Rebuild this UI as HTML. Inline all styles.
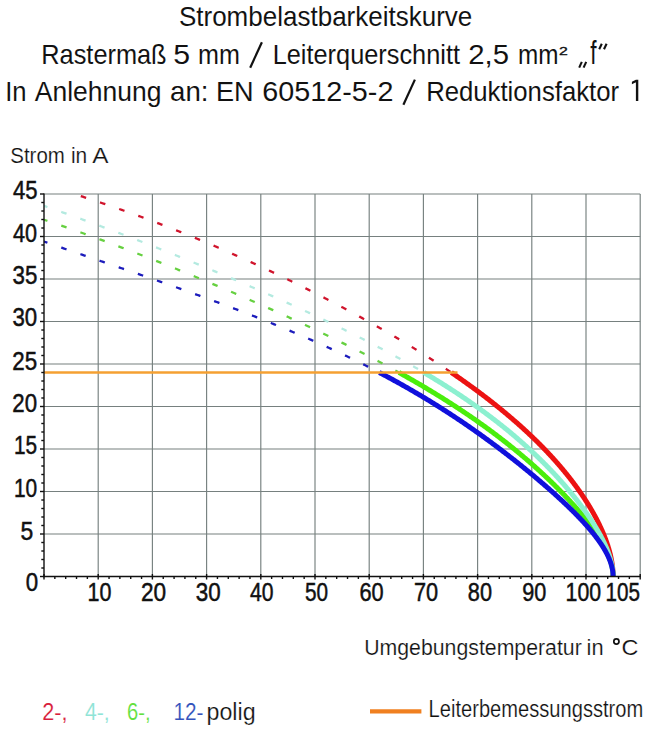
<!DOCTYPE html>
<html><head><meta charset="utf-8"><style>
html,body{margin:0;padding:0;background:#fff;width:664px;height:743px;overflow:hidden}
svg{display:block}
text{font-family:"Liberation Sans",sans-serif}
</style></head><body>
<svg width="664" height="743" viewBox="0 0 664 743">
<g stroke="#76807f" stroke-width="1.15"><line x1="98.20" y1="194" x2="98.20" y2="576.5" /><line x1="152.40" y1="194" x2="152.40" y2="576.5" /><line x1="206.60" y1="194" x2="206.60" y2="576.5" /><line x1="260.80" y1="194" x2="260.80" y2="576.5" /><line x1="315.00" y1="194" x2="315.00" y2="576.5" /><line x1="369.20" y1="194" x2="369.20" y2="576.5" /><line x1="423.40" y1="194" x2="423.40" y2="576.5" /><line x1="477.60" y1="194" x2="477.60" y2="576.5" /><line x1="531.80" y1="194" x2="531.80" y2="576.5" /><line x1="586.00" y1="194" x2="586.00" y2="576.5" /><line x1="640.20" y1="194" x2="640.20" y2="576.5" /><line x1="44.0" y1="534.00" x2="640.20" y2="534.00" /><line x1="44.0" y1="491.50" x2="640.20" y2="491.50" /><line x1="44.0" y1="449.00" x2="640.20" y2="449.00" /><line x1="44.0" y1="406.50" x2="640.20" y2="406.50" /><line x1="44.0" y1="364.00" x2="640.20" y2="364.00" /><line x1="44.0" y1="321.50" x2="640.20" y2="321.50" /><line x1="44.0" y1="279.00" x2="640.20" y2="279.00" /><line x1="44.0" y1="236.50" x2="640.20" y2="236.50" /><line x1="44.0" y1="194.00" x2="640.20" y2="194.00" /></g><clipPath id="cp"><rect x="44.0" y="193" width="596.2" height="383.5"/></clipPath><g clip-path="url(#cp)"><path d="M44.00,184.76 L46.12,185.38 L48.24,186.01 L50.34,186.64 L52.43,187.27 L54.52,187.90 L56.59,188.52 L58.65,189.15 L60.70,189.78 L62.75,190.41 L64.78,191.04 L66.80,191.66 L68.82,192.29 L70.82,192.92 L72.82,193.55 L74.80,194.17 L76.78,194.80 L78.75,195.43 L80.71,196.06 L82.66,196.69 L84.60,197.31 L86.53,197.94 L88.45,198.57 L90.37,199.20 L92.28,199.83 L94.18,200.45 L96.07,201.08 L97.95,201.71 L99.82,202.34 L101.69,202.97 L103.55,203.59 L105.40,204.22 L107.24,204.85 L109.08,205.48 L110.91,206.11 L112.73,206.73 L114.54,207.36 L116.34,207.99 L118.14,208.62 L119.93,209.24 L121.72,209.87 L123.50,210.50 L125.26,211.13 L127.03,211.76 L128.78,212.38 L130.53,213.01 L132.28,213.64 L134.01,214.27 L135.74,214.90 L137.46,215.52 L139.18,216.15 L140.89,216.78 L142.59,217.41 L144.29,218.04 L145.98,218.66 L147.67,219.29 L149.35,219.92 L151.02,220.55 L152.69,221.17 L154.35,221.80 L156.00,222.43 L157.65,223.06 L159.30,223.69 L160.94,224.31 L162.57,224.94 L164.20,225.57 L165.82,226.20 L167.43,226.83 L169.05,227.45 L170.65,228.08 L172.25,228.71 L173.85,229.34 L175.44,229.97 L177.02,230.59 L178.60,231.22 L180.17,231.85 L181.74,232.48 L183.31,233.10 L184.87,233.73 L186.42,234.36 L187.97,234.99 L189.52,235.62 L191.06,236.24 L192.59,236.87 L194.12,237.50 L195.65,238.13 L197.17,238.76 L198.69,239.38 L200.20,240.01 L201.71,240.64 L203.22,241.27 L204.72,241.90 L206.21,242.52 L207.70,243.15 L209.19,243.78 L210.67,244.41 L212.15,245.04 L213.63,245.66 L215.10,246.29 L216.56,246.92 L218.03,247.55 L219.48,248.17 L220.94,248.80 L222.39,249.43 L223.84,250.06 L225.28,250.69 L226.72,251.31 L228.15,251.94 L229.58,252.57 L231.01,253.20 L232.44,253.83 L233.86,254.45 L235.27,255.08 L236.69,255.71 L238.10,256.34 L239.50,256.97 L240.90,257.59 L242.30,258.22 L243.70,258.85 L245.09,259.48 L246.48,260.10 L247.86,260.73 L249.25,261.36 L250.62,261.99 L252.00,262.62 L253.37,263.24 L254.74,263.87 L256.10,264.50 L257.47,265.13 L258.83,265.76 L260.18,266.38 L261.53,267.01 L262.88,267.64 L264.23,268.27 L265.57,268.90 L266.91,269.52 L268.25,270.15 L269.58,270.78 L270.91,271.41 L272.24,272.04 L273.56,272.66 L274.89,273.29 L276.20,273.92 L277.52,274.55 L278.83,275.17 L280.14,275.80 L281.45,276.43 L282.75,277.06 L284.05,277.69 L285.35,278.31 L286.65,278.94 L287.94,279.57 L289.23,280.20 L290.52,280.83 L291.80,281.45 L293.08,282.08 L294.36,282.71 L295.64,283.34 L296.91,283.97 L298.18,284.59 L299.45,285.22 L300.71,285.85 L301.98,286.48 L303.24,287.10 L304.49,287.73 L305.75,288.36 L307.00,288.99 L308.25,289.62 L309.49,290.24 L310.74,290.87 L311.98,291.50 L313.22,292.13 L314.45,292.76 L315.68,293.38 L316.92,294.01 L318.14,294.64 L319.37,295.27 L320.59,295.90 L321.81,296.52 L323.03,297.15 L324.25,297.78 L325.46,298.41 L326.67,299.04 L327.88,299.66 L329.08,300.29 L330.28,300.92 L331.48,301.55 L332.68,302.17 L333.88,302.80 L335.07,303.43 L336.26,304.06 L337.45,304.69 L338.63,305.31 L339.81,305.94 L340.99,306.57 L342.17,307.20 L343.35,307.83 L344.52,308.45 L345.69,309.08 L346.86,309.71 L348.02,310.34 L349.19,310.97 L350.35,311.59 L351.50,312.22 L352.66,312.85 L353.81,313.48 L354.96,314.10 L356.11,314.73 L357.26,315.36 L358.40,315.99 L359.54,316.62 L360.68,317.24 L361.82,317.87 L362.95,318.50 L364.08,319.13 L365.21,319.76 L366.34,320.38 L367.46,321.01 L368.58,321.64 L369.70,322.27 L370.82,322.90 L371.93,323.52 L373.05,324.15 L374.16,324.78 L375.26,325.41 L376.37,326.03 L377.47,326.66 L378.57,327.29 L379.67,327.92 L380.76,328.55 L381.86,329.17 L382.95,329.80 L384.03,330.43 L385.12,331.06 L386.20,331.69 L387.28,332.31 L388.36,332.94 L389.44,333.57 L390.51,334.20 L391.58,334.83 L392.65,335.45 L393.72,336.08 L394.78,336.71 L395.84,337.34 L396.90,337.97 L397.96,338.59 L399.01,339.22 L400.06,339.85 L401.11,340.48 L402.16,341.10 L403.20,341.73 L404.24,342.36 L405.28,342.99 L406.32,343.62 L407.35,344.24 L408.39,344.87 L409.41,345.50 L410.44,346.13 L411.47,346.76 L412.49,347.38 L413.51,348.01 L414.53,348.64 L415.54,349.27 L416.55,349.90 L417.56,350.52 L418.57,351.15 L419.57,351.78 L420.58,352.41 L421.58,353.03 L422.57,353.66 L423.57,354.29 L424.56,354.92 L425.55,355.55 L426.54,356.17 L427.52,356.80 L428.51,357.43 L429.49,358.06 L430.46,358.69 L431.44,359.31 L432.41,359.94 L433.38,360.57 L434.35,361.20 L435.31,361.83 L436.28,362.45 L437.24,363.08 L438.19,363.71 L439.15,364.34 L440.10,364.97 L441.05,365.59 L442.00,366.22 L442.94,366.85 L443.89,367.48 L444.83,368.10 L445.76,368.73 L446.70,369.36 L447.63,369.99 L448.56,370.62 L449.49,371.24 L450.41,371.87 L451.33,372.50" stroke="#d0142c" stroke-width="2.3" fill="none" stroke-dasharray="5.6 14.65" stroke-dashoffset="2"/><path d="M44.00,205.87 L45.62,206.43 L47.23,206.98 L48.84,207.54 L50.45,208.10 L52.05,208.65 L53.65,209.21 L55.25,209.77 L56.84,210.33 L58.43,210.88 L60.01,211.44 L61.59,212.00 L63.17,212.56 L64.75,213.11 L66.32,213.67 L67.88,214.23 L69.45,214.79 L71.01,215.34 L72.56,215.90 L74.12,216.46 L75.67,217.01 L77.21,217.57 L78.76,218.13 L80.30,218.69 L81.83,219.24 L83.37,219.80 L84.90,220.36 L86.43,220.92 L87.95,221.47 L89.47,222.03 L90.99,222.59 L92.51,223.14 L94.02,223.70 L95.53,224.26 L97.04,224.82 L98.54,225.37 L100.05,225.93 L101.55,226.49 L103.04,227.05 L104.54,227.60 L106.03,228.16 L107.52,228.72 L109.00,229.27 L110.49,229.83 L111.97,230.39 L113.45,230.95 L114.92,231.50 L116.39,232.06 L117.87,232.62 L119.33,233.18 L120.80,233.73 L122.26,234.29 L123.72,234.85 L125.18,235.41 L126.64,235.96 L128.09,236.52 L129.55,237.08 L131.00,237.63 L132.44,238.19 L133.89,238.75 L135.33,239.31 L136.77,239.86 L138.21,240.42 L139.65,240.98 L141.08,241.54 L142.51,242.09 L143.94,242.65 L145.37,243.21 L146.79,243.76 L148.22,244.32 L149.64,244.88 L151.06,245.44 L152.48,245.99 L153.89,246.55 L155.30,247.11 L156.72,247.67 L158.13,248.22 L159.53,248.78 L160.94,249.34 L162.34,249.89 L163.74,250.45 L165.14,251.01 L166.54,251.57 L167.93,252.12 L169.33,252.68 L170.72,253.24 L172.11,253.80 L173.50,254.35 L174.88,254.91 L176.27,255.47 L177.65,256.03 L179.03,256.58 L180.41,257.14 L181.78,257.70 L183.16,258.25 L184.53,258.81 L185.90,259.37 L187.27,259.93 L188.64,260.48 L190.01,261.04 L191.37,261.60 L192.73,262.16 L194.09,262.71 L195.45,263.27 L196.81,263.83 L198.16,264.38 L199.52,264.94 L200.87,265.50 L202.22,266.06 L203.56,266.61 L204.91,267.17 L206.25,267.73 L207.60,268.29 L208.94,268.84 L210.28,269.40 L211.61,269.96 L212.95,270.51 L214.28,271.07 L215.62,271.63 L216.95,272.19 L218.27,272.74 L219.60,273.30 L220.93,273.86 L222.25,274.42 L223.57,274.97 L224.89,275.53 L226.21,276.09 L227.52,276.65 L228.84,277.20 L230.15,277.76 L231.46,278.32 L232.77,278.87 L234.08,279.43 L235.38,279.99 L236.69,280.55 L237.99,281.10 L239.29,281.66 L240.59,282.22 L241.88,282.78 L243.18,283.33 L244.47,283.89 L245.76,284.45 L247.05,285.00 L248.34,285.56 L249.63,286.12 L250.91,286.68 L252.19,287.23 L253.48,287.79 L254.75,288.35 L256.03,288.91 L257.31,289.46 L258.58,290.02 L259.85,290.58 L261.12,291.13 L262.39,291.69 L263.65,292.25 L264.92,292.81 L266.18,293.36 L267.44,293.92 L268.70,294.48 L269.96,295.04 L271.21,295.59 L272.47,296.15 L273.72,296.71 L274.97,297.26 L276.21,297.82 L277.46,298.38 L278.70,298.94 L279.95,299.49 L281.18,300.05 L282.42,300.61 L283.66,301.17 L284.89,301.72 L286.13,302.28 L287.36,302.84 L288.58,303.40 L289.81,303.95 L291.04,304.51 L292.26,305.07 L293.48,305.62 L294.70,306.18 L295.91,306.74 L297.13,307.30 L298.34,307.85 L299.55,308.41 L300.76,308.97 L301.97,309.53 L303.17,310.08 L304.37,310.64 L305.57,311.20 L306.77,311.75 L307.97,312.31 L309.16,312.87 L310.36,313.43 L311.55,313.98 L312.74,314.54 L313.92,315.10 L315.11,315.66 L316.29,316.21 L317.47,316.77 L318.65,317.33 L319.82,317.88 L320.99,318.44 L322.17,319.00 L323.34,319.56 L324.50,320.11 L325.67,320.67 L326.83,321.23 L327.99,321.79 L329.15,322.34 L330.31,322.90 L331.46,323.46 L332.61,324.02 L333.76,324.57 L334.91,325.13 L336.06,325.69 L337.20,326.24 L338.34,326.80 L339.48,327.36 L340.62,327.92 L341.75,328.47 L342.88,329.03 L344.01,329.59 L345.14,330.15 L346.27,330.70 L347.39,331.26 L348.51,331.82 L349.63,332.37 L350.75,332.93 L351.86,333.49 L352.97,334.05 L354.08,334.60 L355.19,335.16 L356.30,335.72 L357.40,336.28 L358.50,336.83 L359.60,337.39 L360.69,337.95 L361.79,338.50 L362.88,339.06 L363.96,339.62 L365.05,340.18 L366.13,340.73 L367.22,341.29 L368.30,341.85 L369.37,342.41 L370.45,342.96 L371.52,343.52 L372.59,344.08 L373.66,344.64 L374.72,345.19 L375.78,345.75 L376.84,346.31 L377.90,346.86 L378.95,347.42 L380.01,347.98 L381.06,348.54 L382.11,349.09 L383.15,349.65 L384.19,350.21 L385.23,350.77 L386.27,351.32 L387.31,351.88 L388.34,352.44 L389.37,352.99 L390.40,353.55 L391.42,354.11 L392.45,354.67 L393.47,355.22 L394.49,355.78 L395.50,356.34 L396.51,356.90 L397.52,357.45 L398.53,358.01 L399.54,358.57 L400.54,359.12 L401.54,359.68 L402.54,360.24 L403.53,360.80 L404.53,361.35 L405.52,361.91 L406.51,362.47 L407.49,363.03 L408.47,363.58 L409.45,364.14 L410.43,364.70 L411.41,365.26 L412.38,365.81 L413.35,366.37 L414.32,366.93 L415.28,367.48 L416.24,368.04 L417.20,368.60 L418.16,369.16 L419.11,369.71 L420.07,370.27 L421.01,370.83 L421.96,371.39 L422.91,371.94 L423.85,372.50" stroke="#b4eae0" stroke-width="2.3" fill="none" stroke-dasharray="5.6 14.65" stroke-dashoffset="2"/><path d="M44.00,219.75 L45.52,220.26 L47.04,220.77 L48.56,221.28 L50.07,221.79 L51.58,222.30 L53.08,222.82 L54.58,223.33 L56.08,223.84 L57.57,224.35 L59.05,224.86 L60.54,225.37 L62.02,225.88 L63.49,226.39 L64.96,226.90 L66.43,227.41 L67.90,227.92 L69.36,228.43 L70.81,228.95 L72.27,229.46 L73.72,229.97 L75.16,230.48 L76.61,230.99 L78.05,231.50 L79.48,232.01 L80.92,232.52 L82.35,233.03 L83.77,233.54 L85.20,234.05 L86.62,234.57 L88.03,235.08 L89.45,235.59 L90.86,236.10 L92.26,236.61 L93.67,237.12 L95.07,237.63 L96.47,238.14 L97.86,238.65 L99.26,239.16 L100.65,239.67 L102.03,240.18 L103.42,240.70 L104.80,241.21 L106.18,241.72 L107.55,242.23 L108.93,242.74 L110.30,243.25 L111.66,243.76 L113.03,244.27 L114.39,244.78 L115.75,245.29 L117.11,245.80 L118.47,246.32 L119.82,246.83 L121.17,247.34 L122.52,247.85 L123.86,248.36 L125.20,248.87 L126.54,249.38 L127.88,249.89 L129.22,250.40 L130.55,250.91 L131.88,251.42 L133.21,251.93 L134.54,252.45 L135.86,252.96 L137.19,253.47 L138.51,253.98 L139.82,254.49 L141.14,255.00 L142.45,255.51 L143.76,256.02 L145.07,256.53 L146.38,257.04 L147.69,257.55 L148.99,258.07 L150.29,258.58 L151.59,259.09 L152.89,259.60 L154.18,260.11 L155.48,260.62 L156.77,261.13 L158.06,261.64 L159.34,262.15 L160.63,262.66 L161.91,263.17 L163.20,263.68 L164.48,264.20 L165.75,264.71 L167.03,265.22 L168.30,265.73 L169.58,266.24 L170.85,266.75 L172.12,267.26 L173.38,267.77 L174.65,268.28 L175.91,268.79 L177.18,269.30 L178.44,269.82 L179.69,270.33 L180.95,270.84 L182.21,271.35 L183.46,271.86 L184.71,272.37 L185.96,272.88 L187.21,273.39 L188.46,273.90 L189.70,274.41 L190.94,274.92 L192.19,275.43 L193.43,275.95 L194.67,276.46 L195.90,276.97 L197.14,277.48 L198.37,277.99 L199.60,278.50 L200.83,279.01 L202.06,279.52 L203.29,280.03 L204.51,280.54 L205.74,281.05 L206.96,281.57 L208.18,282.08 L209.40,282.59 L210.62,283.10 L211.84,283.61 L213.05,284.12 L214.26,284.63 L215.48,285.14 L216.69,285.65 L217.89,286.16 L219.10,286.67 L220.31,287.18 L221.51,287.70 L222.71,288.21 L223.91,288.72 L225.11,289.23 L226.31,289.74 L227.51,290.25 L228.70,290.76 L229.90,291.27 L231.09,291.78 L232.28,292.29 L233.47,292.80 L234.65,293.32 L235.84,293.83 L237.02,294.34 L238.21,294.85 L239.39,295.36 L240.57,295.87 L241.75,296.38 L242.92,296.89 L244.10,297.40 L245.27,297.91 L246.44,298.42 L247.61,298.93 L248.78,299.45 L249.95,299.96 L251.12,300.47 L252.28,300.98 L253.45,301.49 L254.61,302.00 L255.77,302.51 L256.93,303.02 L258.08,303.53 L259.24,304.04 L260.39,304.55 L261.55,305.07 L262.70,305.58 L263.85,306.09 L264.99,306.60 L266.14,307.11 L267.29,307.62 L268.43,308.13 L269.57,308.64 L270.71,309.15 L271.85,309.66 L272.99,310.17 L274.12,310.68 L275.26,311.20 L276.39,311.71 L277.52,312.22 L278.65,312.73 L279.78,313.24 L280.90,313.75 L282.03,314.26 L283.15,314.77 L284.27,315.28 L285.39,315.79 L286.51,316.30 L287.63,316.82 L288.74,317.33 L289.86,317.84 L290.97,318.35 L292.08,318.86 L293.19,319.37 L294.30,319.88 L295.40,320.39 L296.51,320.90 L297.61,321.41 L298.71,321.92 L299.81,322.43 L300.91,322.95 L302.00,323.46 L303.10,323.97 L304.19,324.48 L305.28,324.99 L306.37,325.50 L307.46,326.01 L308.54,326.52 L309.63,327.03 L310.71,327.54 L311.79,328.05 L312.87,328.57 L313.95,329.08 L315.02,329.59 L316.10,330.10 L317.17,330.61 L318.24,331.12 L319.31,331.63 L320.38,332.14 L321.44,332.65 L322.51,333.16 L323.57,333.67 L324.63,334.18 L325.69,334.70 L326.74,335.21 L327.80,335.72 L328.85,336.23 L329.91,336.74 L330.96,337.25 L332.00,337.76 L333.05,338.27 L334.09,338.78 L335.14,339.29 L336.18,339.80 L337.22,340.32 L338.26,340.83 L339.29,341.34 L340.33,341.85 L341.36,342.36 L342.39,342.87 L343.42,343.38 L344.44,343.89 L345.47,344.40 L346.49,344.91 L347.51,345.42 L348.53,345.93 L349.55,346.45 L350.57,346.96 L351.58,347.47 L352.59,347.98 L353.60,348.49 L354.61,349.00 L355.62,349.51 L356.62,350.02 L357.63,350.53 L358.63,351.04 L359.63,351.55 L360.62,352.07 L361.62,352.58 L362.61,353.09 L363.60,353.60 L364.59,354.11 L365.58,354.62 L366.57,355.13 L367.55,355.64 L368.53,356.15 L369.51,356.66 L370.49,357.17 L371.47,357.68 L372.44,358.20 L373.41,358.71 L374.38,359.22 L375.35,359.73 L376.32,360.24 L377.28,360.75 L378.25,361.26 L379.21,361.77 L380.17,362.28 L381.12,362.79 L382.08,363.30 L383.03,363.82 L383.98,364.33 L384.93,364.84 L385.88,365.35 L386.82,365.86 L387.77,366.37 L388.71,366.88 L389.65,367.39 L390.58,367.90 L391.52,368.41 L392.45,368.92 L393.38,369.43 L394.31,369.95 L395.24,370.46 L396.16,370.97 L397.09,371.48 L398.01,371.99 L398.93,372.50" stroke="#66d040" stroke-width="2.3" fill="none" stroke-dasharray="5.6 14.65" stroke-dashoffset="2"/><path d="M44.00,241.55 L45.25,241.99 L46.51,242.43 L47.76,242.87 L49.02,243.31 L50.27,243.74 L51.53,244.18 L52.79,244.62 L54.05,245.06 L55.32,245.50 L56.58,245.93 L57.84,246.37 L59.11,246.81 L60.37,247.25 L61.64,247.69 L62.91,248.12 L64.18,248.56 L65.45,249.00 L66.72,249.44 L67.99,249.87 L69.26,250.31 L70.53,250.75 L71.80,251.19 L73.08,251.63 L74.35,252.06 L75.62,252.50 L76.90,252.94 L78.17,253.38 L79.45,253.82 L80.73,254.25 L82.00,254.69 L83.28,255.13 L84.56,255.57 L85.84,256.01 L87.11,256.44 L88.39,256.88 L89.67,257.32 L90.95,257.76 L92.23,258.20 L93.51,258.63 L94.78,259.07 L96.06,259.51 L97.34,259.95 L98.62,260.39 L99.90,260.82 L101.18,261.26 L102.46,261.70 L103.74,262.14 L105.01,262.58 L106.29,263.01 L107.57,263.45 L108.85,263.89 L110.13,264.33 L111.40,264.77 L112.68,265.20 L113.96,265.64 L115.23,266.08 L116.51,266.52 L117.79,266.95 L119.06,267.39 L120.34,267.83 L121.61,268.27 L122.88,268.71 L124.16,269.14 L125.43,269.58 L126.70,270.02 L127.98,270.46 L129.25,270.90 L130.52,271.33 L131.79,271.77 L133.06,272.21 L134.32,272.65 L135.59,273.09 L136.86,273.52 L138.12,273.96 L139.39,274.40 L140.65,274.84 L141.92,275.28 L143.18,275.71 L144.44,276.15 L145.70,276.59 L146.96,277.03 L148.22,277.47 L149.48,277.90 L150.74,278.34 L152.00,278.78 L153.25,279.22 L154.51,279.66 L155.76,280.09 L157.01,280.53 L158.26,280.97 L159.51,281.41 L160.76,281.85 L162.01,282.28 L163.26,282.72 L164.50,283.16 L165.75,283.60 L166.99,284.03 L168.23,284.47 L169.47,284.91 L170.71,285.35 L171.95,285.79 L173.19,286.22 L174.42,286.66 L175.65,287.10 L176.89,287.54 L178.12,287.98 L179.35,288.41 L180.58,288.85 L181.80,289.29 L183.03,289.73 L184.25,290.17 L185.48,290.60 L186.70,291.04 L187.92,291.48 L189.14,291.92 L190.35,292.36 L191.57,292.79 L192.78,293.23 L193.99,293.67 L195.20,294.11 L196.41,294.55 L197.62,294.98 L198.83,295.42 L200.03,295.86 L201.23,296.30 L202.43,296.74 L203.63,297.17 L204.83,297.61 L206.03,298.05 L207.22,298.49 L208.41,298.92 L209.60,299.36 L210.79,299.80 L211.98,300.24 L213.17,300.68 L214.35,301.11 L215.53,301.55 L216.71,301.99 L217.89,302.43 L219.07,302.87 L220.24,303.30 L221.41,303.74 L222.59,304.18 L223.75,304.62 L224.92,305.06 L226.09,305.49 L227.25,305.93 L228.41,306.37 L229.57,306.81 L230.73,307.25 L231.89,307.68 L233.04,308.12 L234.19,308.56 L235.34,309.00 L236.49,309.44 L237.64,309.87 L238.78,310.31 L239.92,310.75 L241.06,311.19 L242.20,311.63 L243.34,312.06 L244.47,312.50 L245.60,312.94 L246.73,313.38 L247.86,313.82 L248.99,314.25 L250.11,314.69 L251.23,315.13 L252.35,315.57 L253.47,316.00 L254.59,316.44 L255.70,316.88 L256.81,317.32 L257.92,317.76 L259.03,318.19 L260.13,318.63 L261.24,319.07 L262.34,319.51 L263.44,319.95 L264.53,320.38 L265.63,320.82 L266.72,321.26 L267.81,321.70 L268.90,322.14 L269.98,322.57 L271.07,323.01 L272.15,323.45 L273.23,323.89 L274.31,324.33 L275.38,324.76 L276.45,325.20 L277.52,325.64 L278.59,326.08 L279.66,326.52 L280.72,326.95 L281.79,327.39 L282.85,327.83 L283.90,328.27 L284.96,328.71 L286.01,329.14 L287.06,329.58 L288.11,330.02 L289.16,330.46 L290.20,330.90 L291.25,331.33 L292.29,331.77 L293.32,332.21 L294.36,332.65 L295.39,333.08 L296.42,333.52 L297.45,333.96 L298.48,334.40 L299.50,334.84 L300.52,335.27 L301.54,335.71 L302.56,336.15 L303.58,336.59 L304.59,337.03 L305.60,337.46 L306.61,337.90 L307.62,338.34 L308.62,338.78 L309.62,339.22 L310.62,339.65 L311.62,340.09 L312.62,340.53 L313.61,340.97 L314.60,341.41 L315.59,341.84 L316.57,342.28 L317.56,342.72 L318.54,343.16 L319.52,343.60 L320.50,344.03 L321.47,344.47 L322.44,344.91 L323.41,345.35 L324.38,345.79 L325.35,346.22 L326.31,346.66 L327.27,347.10 L328.23,347.54 L329.19,347.97 L330.15,348.41 L331.10,348.85 L332.05,349.29 L333.00,349.73 L333.94,350.16 L334.89,350.60 L335.83,351.04 L336.77,351.48 L337.70,351.92 L338.64,352.35 L339.57,352.79 L340.50,353.23 L341.43,353.67 L342.36,354.11 L343.28,354.54 L344.20,354.98 L345.12,355.42 L346.04,355.86 L346.95,356.30 L347.87,356.73 L348.78,357.17 L349.68,357.61 L350.59,358.05 L351.50,358.49 L352.40,358.92 L353.30,359.36 L354.19,359.80 L355.09,360.24 L355.98,360.68 L356.87,361.11 L357.76,361.55 L358.65,361.99 L359.53,362.43 L360.42,362.87 L361.30,363.30 L362.18,363.74 L363.05,364.18 L363.93,364.62 L364.80,365.05 L365.67,365.49 L366.54,365.93 L367.40,366.37 L368.26,366.81 L369.13,367.24 L369.99,367.68 L370.84,368.12 L371.70,368.56 L372.55,369.00 L373.40,369.43 L374.25,369.87 L375.10,370.31 L375.94,370.75 L376.78,371.19 L377.62,371.62 L378.46,372.06 L379.30,372.50" stroke="#1c1cbc" stroke-width="2.3" fill="none" stroke-dasharray="5.6 14.65" stroke-dashoffset="2"/></g><path d="M451.33,372.50 L452.33,373.18 L453.33,373.86 L454.32,374.55 L455.31,375.23 L456.30,375.91 L457.28,376.59 L458.26,377.28 L459.24,377.96 L460.22,378.64 L461.19,379.32 L462.16,380.01 L463.12,380.69 L464.09,381.37 L465.05,382.05 L466.00,382.73 L466.96,383.42 L467.91,384.10 L468.85,384.78 L469.80,385.46 L470.74,386.15 L471.68,386.83 L472.61,387.51 L473.55,388.19 L474.48,388.87 L475.40,389.56 L476.33,390.24 L477.25,390.92 L478.16,391.60 L479.08,392.29 L479.99,392.97 L480.90,393.65 L481.80,394.33 L482.70,395.02 L483.60,395.70 L484.50,396.38 L485.39,397.06 L486.28,397.74 L487.16,398.43 L488.05,399.11 L488.93,399.79 L489.80,400.47 L490.68,401.16 L491.55,401.84 L492.42,402.52 L493.28,403.20 L494.14,403.88 L495.00,404.57 L495.86,405.25 L496.71,405.93 L497.56,406.61 L498.41,407.30 L499.25,407.98 L500.09,408.66 L500.93,409.34 L501.76,410.03 L502.59,410.71 L503.42,411.39 L504.25,412.07 L505.07,412.75 L505.89,413.44 L506.70,414.12 L507.51,414.80 L508.32,415.48 L509.13,416.17 L509.93,416.85 L510.73,417.53 L511.53,418.21 L512.32,418.89 L513.12,419.58 L513.90,420.26 L514.69,420.94 L515.47,421.62 L516.25,422.31 L517.02,422.99 L517.80,423.67 L518.57,424.35 L519.33,425.04 L520.10,425.72 L520.86,426.40 L521.61,427.08 L522.37,427.76 L523.12,428.45 L523.87,429.13 L524.61,429.81 L525.36,430.49 L526.09,431.18 L526.83,431.86 L527.56,432.54 L528.29,433.22 L529.02,433.90 L529.74,434.59 L530.47,435.27 L531.18,435.95 L531.90,436.63 L532.61,437.32 L533.32,438.00 L534.02,438.68 L534.73,439.36 L535.43,440.05 L536.12,440.73 L536.82,441.41 L537.51,442.09 L538.20,442.77 L538.88,443.46 L539.56,444.14 L540.24,444.82 L540.92,445.50 L541.59,446.19 L542.26,446.87 L542.93,447.55 L543.59,448.23 L544.25,448.91 L544.91,449.60 L545.56,450.28 L546.22,450.96 L546.86,451.64 L547.51,452.33 L548.15,453.01 L548.79,453.69 L549.43,454.37 L550.06,455.06 L550.70,455.74 L551.32,456.42 L551.95,457.10 L552.57,457.78 L553.19,458.47 L553.81,459.15 L554.42,459.83 L555.03,460.51 L555.64,461.20 L556.24,461.88 L556.85,462.56 L557.44,463.24 L558.04,463.92 L558.63,464.61 L559.22,465.29 L559.81,465.97 L560.39,466.65 L560.98,467.34 L561.55,468.02 L562.13,468.70 L562.70,469.38 L563.27,470.07 L563.84,470.75 L564.40,471.43 L564.96,472.11 L565.52,472.79 L566.08,473.48 L566.63,474.16 L567.18,474.84 L567.72,475.52 L568.27,476.21 L568.81,476.89 L569.34,477.57 L569.88,478.25 L570.41,478.93 L570.94,479.62 L571.47,480.30 L571.99,480.98 L572.51,481.66 L573.03,482.35 L573.54,483.03 L574.05,483.71 L574.56,484.39 L575.07,485.08 L575.57,485.76 L576.07,486.44 L576.57,487.12 L577.06,487.80 L577.55,488.49 L578.04,489.17 L578.53,489.85 L579.01,490.53 L579.49,491.22 L579.97,491.90 L580.44,492.58 L580.91,493.26 L581.38,493.94 L581.84,494.63 L582.31,495.31 L582.77,495.99 L583.22,496.67 L583.68,497.36 L584.13,498.04 L584.57,498.72 L585.02,499.40 L585.46,500.09 L585.90,500.77 L586.33,501.45 L586.77,502.13 L587.20,502.81 L587.62,503.50 L588.05,504.18 L588.47,504.86 L588.89,505.54 L589.30,506.23 L589.71,506.91 L590.12,507.59 L590.53,508.27 L590.93,508.95 L591.33,509.64 L591.73,510.32 L592.12,511.00 L592.51,511.68 L592.90,512.37 L593.28,513.05 L593.67,513.73 L594.04,514.41 L594.42,515.10 L594.79,515.78 L595.16,516.46 L595.53,517.14 L595.89,517.82 L596.25,518.51 L596.60,519.19 L596.96,519.87 L597.31,520.55 L597.66,521.24 L598.00,521.92 L598.34,522.60 L598.68,523.28 L599.01,523.96 L599.34,524.65 L599.67,525.33 L599.99,526.01 L600.31,526.69 L600.63,527.38 L600.94,528.06 L601.26,528.74 L601.56,529.42 L601.87,530.11 L602.17,530.79 L602.46,531.47 L602.76,532.15 L603.05,532.83 L603.33,533.52 L603.62,534.20 L603.90,534.88 L604.17,535.56 L604.45,536.25 L604.71,536.93 L604.98,537.61 L605.24,538.29 L605.50,538.97 L605.75,539.66 L606.00,540.34 L606.25,541.02 L606.49,541.70 L606.73,542.39 L606.97,543.07 L607.20,543.75 L607.43,544.43 L607.65,545.12 L607.87,545.80 L608.09,546.48 L608.30,547.16 L608.50,547.84 L608.71,548.53 L608.91,549.21 L609.10,549.89 L609.29,550.57 L609.48,551.26 L609.66,551.94 L609.84,552.62 L610.02,553.30 L610.19,553.98 L610.35,554.67 L610.51,555.35 L610.67,556.03 L610.82,556.71 L610.97,557.40 L611.11,558.08 L611.25,558.76 L611.39,559.44 L611.52,560.13 L611.64,560.81 L611.76,561.49 L611.88,562.17 L611.99,562.85 L612.09,563.54 L612.19,564.22 L612.29,564.90 L612.38,565.58 L612.46,566.27 L612.54,566.95 L612.62,567.63 L612.69,568.31 L612.75,568.99 L612.81,569.68 L612.87,570.36 L612.91,571.04 L612.96,571.72 L613.00,572.41 L613.03,573.09 L613.05,573.77 L613.07,574.45 L613.09,575.14 L613.10,575.82 L613.10,576.50" stroke="#ec1212" stroke-width="5" fill="none" stroke-linejoin="round"/><path d="M398.93,372.50 L400.15,373.18 L401.37,373.86 L402.59,374.55 L403.80,375.23 L405.01,375.91 L406.22,376.59 L407.42,377.28 L408.62,377.96 L409.82,378.64 L411.01,379.32 L412.20,380.01 L413.38,380.69 L414.56,381.37 L415.74,382.05 L416.92,382.73 L418.09,383.42 L419.25,384.10 L420.42,384.78 L421.57,385.46 L422.73,386.15 L423.88,386.83 L425.03,387.51 L426.18,388.19 L427.32,388.87 L428.45,389.56 L429.59,390.24 L430.72,390.92 L431.85,391.60 L432.97,392.29 L434.09,392.97 L435.20,393.65 L436.32,394.33 L437.42,395.02 L438.53,395.70 L439.63,396.38 L440.73,397.06 L441.82,397.74 L442.91,398.43 L444.00,399.11 L445.08,399.79 L446.16,400.47 L447.24,401.16 L448.31,401.84 L449.38,402.52 L450.44,403.20 L451.50,403.88 L452.56,404.57 L453.62,405.25 L454.67,405.93 L455.71,406.61 L456.76,407.30 L457.80,407.98 L458.83,408.66 L459.87,409.34 L460.90,410.03 L461.92,410.71 L462.94,411.39 L463.96,412.07 L464.98,412.75 L465.99,413.44 L467.00,414.12 L468.00,414.80 L469.00,415.48 L470.00,416.17 L470.99,416.85 L471.99,417.53 L472.97,418.21 L473.96,418.89 L474.94,419.58 L475.91,420.26 L476.89,420.94 L477.86,421.62 L478.82,422.31 L479.79,422.99 L480.75,423.67 L481.70,424.35 L482.66,425.04 L483.61,425.72 L484.55,426.40 L485.49,427.08 L486.43,427.76 L487.37,428.45 L488.30,429.13 L489.23,429.81 L490.16,430.49 L491.08,431.18 L492.00,431.86 L492.92,432.54 L493.83,433.22 L494.74,433.90 L495.65,434.59 L496.55,435.27 L497.45,435.95 L498.35,436.63 L499.24,437.32 L500.13,438.00 L501.02,438.68 L501.90,439.36 L502.79,440.05 L503.66,440.73 L504.54,441.41 L505.41,442.09 L506.28,442.77 L507.14,443.46 L508.01,444.14 L508.87,444.82 L509.72,445.50 L510.58,446.19 L511.43,446.87 L512.27,447.55 L513.12,448.23 L513.96,448.91 L514.80,449.60 L515.63,450.28 L516.46,450.96 L517.29,451.64 L518.12,452.33 L518.94,453.01 L519.76,453.69 L520.58,454.37 L521.39,455.06 L522.20,455.74 L523.01,456.42 L523.82,457.10 L524.62,457.78 L525.42,458.47 L526.22,459.15 L527.01,459.83 L527.80,460.51 L528.59,461.20 L529.38,461.88 L530.16,462.56 L530.94,463.24 L531.72,463.92 L532.49,464.61 L533.27,465.29 L534.04,465.97 L534.80,466.65 L535.56,467.34 L536.33,468.02 L537.08,468.70 L537.84,469.38 L538.59,470.07 L539.34,470.75 L540.09,471.43 L540.83,472.11 L541.57,472.79 L542.31,473.48 L543.05,474.16 L543.78,474.84 L544.51,475.52 L545.24,476.21 L545.97,476.89 L546.69,477.57 L547.41,478.25 L548.13,478.93 L548.84,479.62 L549.56,480.30 L550.27,480.98 L550.97,481.66 L551.68,482.35 L552.38,483.03 L553.08,483.71 L553.77,484.39 L554.47,485.08 L555.16,485.76 L555.85,486.44 L556.53,487.12 L557.22,487.80 L557.90,488.49 L558.57,489.17 L559.25,489.85 L559.92,490.53 L560.59,491.22 L561.26,491.90 L561.92,492.58 L562.58,493.26 L563.24,493.94 L563.90,494.63 L564.55,495.31 L565.20,495.99 L565.85,496.67 L566.50,497.36 L567.14,498.04 L567.78,498.72 L568.42,499.40 L569.05,500.09 L569.68,500.77 L570.31,501.45 L570.94,502.13 L571.56,502.81 L572.18,503.50 L572.80,504.18 L573.41,504.86 L574.02,505.54 L574.63,506.23 L575.24,506.91 L575.84,507.59 L576.44,508.27 L577.03,508.95 L577.63,509.64 L578.22,510.32 L578.80,511.00 L579.39,511.68 L579.97,512.37 L580.55,513.05 L581.12,513.73 L581.69,514.41 L582.26,515.10 L582.83,515.78 L583.39,516.46 L583.95,517.14 L584.50,517.82 L585.05,518.51 L585.60,519.19 L586.14,519.87 L586.69,520.55 L587.22,521.24 L587.76,521.92 L588.29,522.60 L588.81,523.28 L589.34,523.96 L589.85,524.65 L590.37,525.33 L590.88,526.01 L591.39,526.69 L591.89,527.38 L592.39,528.06 L592.89,528.74 L593.38,529.42 L593.87,530.11 L594.35,530.79 L594.83,531.47 L595.30,532.15 L595.77,532.83 L596.24,533.52 L596.70,534.20 L597.16,534.88 L597.61,535.56 L598.06,536.25 L598.50,536.93 L598.94,537.61 L599.37,538.29 L599.80,538.97 L600.22,539.66 L600.64,540.34 L601.05,541.02 L601.46,541.70 L601.86,542.39 L602.26,543.07 L602.65,543.75 L603.04,544.43 L603.42,545.12 L603.79,545.80 L604.16,546.48 L604.52,547.16 L604.88,547.84 L605.23,548.53 L605.58,549.21 L605.92,549.89 L606.25,550.57 L606.57,551.26 L606.89,551.94 L607.21,552.62 L607.51,553.30 L607.81,553.98 L608.10,554.67 L608.39,555.35 L608.67,556.03 L608.94,556.71 L609.20,557.40 L609.46,558.08 L609.71,558.76 L609.95,559.44 L610.18,560.13 L610.41,560.81 L610.62,561.49 L610.83,562.17 L611.03,562.85 L611.23,563.54 L611.41,564.22 L611.59,564.90 L611.75,565.58 L611.91,566.27 L612.06,566.95 L612.20,567.63 L612.33,568.31 L612.45,568.99 L612.56,569.68 L612.66,570.36 L612.75,571.04 L612.83,571.72 L612.90,572.41 L612.96,573.09 L613.01,573.77 L613.05,574.45 L613.08,575.14 L613.09,575.82 L613.10,576.50" stroke="#4aee0c" stroke-width="5" fill="none" stroke-linejoin="round"/><path d="M423.85,372.50 L425.00,373.18 L426.14,373.86 L427.28,374.55 L428.42,375.23 L429.55,375.91 L430.68,376.59 L431.81,377.28 L432.93,377.96 L434.05,378.64 L435.16,379.32 L436.27,380.01 L437.38,380.69 L438.48,381.37 L439.58,382.05 L440.68,382.73 L441.77,383.42 L442.86,384.10 L443.94,384.78 L445.02,385.46 L446.09,386.15 L447.16,386.83 L448.23,387.51 L449.30,388.19 L450.36,388.87 L451.41,389.56 L452.46,390.24 L453.51,390.92 L454.56,391.60 L455.60,392.29 L456.63,392.97 L457.67,393.65 L458.69,394.33 L459.72,395.02 L460.74,395.70 L461.76,396.38 L462.77,397.06 L463.78,397.74 L464.79,398.43 L465.79,399.11 L466.79,399.79 L467.78,400.47 L468.77,401.16 L469.76,401.84 L470.74,402.52 L471.72,403.20 L472.69,403.88 L473.66,404.57 L474.63,405.25 L475.60,405.93 L476.56,406.61 L477.51,407.30 L478.46,407.98 L479.41,408.66 L480.36,409.34 L481.30,410.03 L482.24,410.71 L483.17,411.39 L484.10,412.07 L485.03,412.75 L485.95,413.44 L486.87,414.12 L487.78,414.80 L488.70,415.48 L489.60,416.17 L490.51,416.85 L491.41,417.53 L492.31,418.21 L493.20,418.89 L494.09,419.58 L494.98,420.26 L495.86,420.94 L496.74,421.62 L497.61,422.31 L498.49,422.99 L499.35,423.67 L500.22,424.35 L501.08,425.04 L501.94,425.72 L502.79,426.40 L503.64,427.08 L504.49,427.76 L505.33,428.45 L506.17,429.13 L507.01,429.81 L507.84,430.49 L508.67,431.18 L509.50,431.86 L510.32,432.54 L511.14,433.22 L511.96,433.90 L512.77,434.59 L513.58,435.27 L514.39,435.95 L515.19,436.63 L515.99,437.32 L516.79,438.00 L517.58,438.68 L518.37,439.36 L519.16,440.05 L519.94,440.73 L520.72,441.41 L521.50,442.09 L522.27,442.77 L523.04,443.46 L523.81,444.14 L524.57,444.82 L525.33,445.50 L526.09,446.19 L526.84,446.87 L527.59,447.55 L528.34,448.23 L529.09,448.91 L529.83,449.60 L530.57,450.28 L531.30,450.96 L532.03,451.64 L532.76,452.33 L533.49,453.01 L534.21,453.69 L534.93,454.37 L535.65,455.06 L536.37,455.74 L537.08,456.42 L537.78,457.10 L538.49,457.78 L539.19,458.47 L539.89,459.15 L540.59,459.83 L541.28,460.51 L541.97,461.20 L542.66,461.88 L543.34,462.56 L544.03,463.24 L544.71,463.92 L545.38,464.61 L546.06,465.29 L546.73,465.97 L547.39,466.65 L548.06,467.34 L548.72,468.02 L549.38,468.70 L550.04,469.38 L550.69,470.07 L551.34,470.75 L551.99,471.43 L552.63,472.11 L553.28,472.79 L553.92,473.48 L554.55,474.16 L555.19,474.84 L555.82,475.52 L556.45,476.21 L557.07,476.89 L557.70,477.57 L558.32,478.25 L558.94,478.93 L559.55,479.62 L560.16,480.30 L560.77,480.98 L561.38,481.66 L561.99,482.35 L562.59,483.03 L563.19,483.71 L563.78,484.39 L564.38,485.08 L564.97,485.76 L565.56,486.44 L566.14,487.12 L566.73,487.80 L567.31,488.49 L567.88,489.17 L568.46,489.85 L569.03,490.53 L569.60,491.22 L570.17,491.90 L570.74,492.58 L571.30,493.26 L571.86,493.94 L572.41,494.63 L572.97,495.31 L573.52,495.99 L574.07,496.67 L574.61,497.36 L575.16,498.04 L575.70,498.72 L576.24,499.40 L576.77,500.09 L577.30,500.77 L577.83,501.45 L578.36,502.13 L578.89,502.81 L579.41,503.50 L579.93,504.18 L580.44,504.86 L580.96,505.54 L581.47,506.23 L581.98,506.91 L582.48,507.59 L582.98,508.27 L583.48,508.95 L583.98,509.64 L584.47,510.32 L584.96,511.00 L585.45,511.68 L585.94,512.37 L586.42,513.05 L586.90,513.73 L587.38,514.41 L587.85,515.10 L588.32,515.78 L588.79,516.46 L589.25,517.14 L589.71,517.82 L590.17,518.51 L590.62,519.19 L591.08,519.87 L591.52,520.55 L591.97,521.24 L592.41,521.92 L592.85,522.60 L593.29,523.28 L593.72,523.96 L594.15,524.65 L594.57,525.33 L595.00,526.01 L595.41,526.69 L595.83,527.38 L596.24,528.06 L596.65,528.74 L597.05,529.42 L597.46,530.11 L597.85,530.79 L598.25,531.47 L598.64,532.15 L599.02,532.83 L599.40,533.52 L599.78,534.20 L600.16,534.88 L600.53,535.56 L600.89,536.25 L601.26,536.93 L601.62,537.61 L601.97,538.29 L602.32,538.97 L602.66,539.66 L603.01,540.34 L603.34,541.02 L603.68,541.70 L604.00,542.39 L604.33,543.07 L604.65,543.75 L604.96,544.43 L605.27,545.12 L605.58,545.80 L605.88,546.48 L606.17,547.16 L606.46,547.84 L606.75,548.53 L607.03,549.21 L607.30,549.89 L607.57,550.57 L607.84,551.26 L608.09,551.94 L608.35,552.62 L608.60,553.30 L608.84,553.98 L609.08,554.67 L609.31,555.35 L609.53,556.03 L609.75,556.71 L609.96,557.40 L610.17,558.08 L610.37,558.76 L610.57,559.44 L610.75,560.13 L610.94,560.81 L611.11,561.49 L611.28,562.17 L611.44,562.85 L611.60,563.54 L611.74,564.22 L611.88,564.90 L612.02,565.58 L612.15,566.27 L612.26,566.95 L612.38,567.63 L612.48,568.31 L612.58,568.99 L612.67,569.68 L612.75,570.36 L612.82,571.04 L612.88,571.72 L612.94,572.41 L612.99,573.09 L613.03,573.77 L613.06,574.45 L613.08,575.14 L613.10,575.82 L613.10,576.50" stroke="#8cf0d0" stroke-width="5" fill="none" stroke-linejoin="round"/><path d="M379.30,372.50 L380.60,373.18 L381.89,373.86 L383.18,374.55 L384.47,375.23 L385.75,375.91 L387.02,376.59 L388.29,377.28 L389.56,377.96 L390.82,378.64 L392.07,379.32 L393.32,380.01 L394.57,380.69 L395.81,381.37 L397.05,382.05 L398.28,382.73 L399.51,383.42 L400.73,384.10 L401.95,384.78 L403.16,385.46 L404.37,386.15 L405.58,386.83 L406.78,387.51 L407.97,388.19 L409.17,388.87 L410.35,389.56 L411.54,390.24 L412.71,390.92 L413.89,391.60 L415.06,392.29 L416.22,392.97 L417.39,393.65 L418.54,394.33 L419.70,395.02 L420.84,395.70 L421.99,396.38 L423.13,397.06 L424.27,397.74 L425.40,398.43 L426.53,399.11 L427.65,399.79 L428.77,400.47 L429.89,401.16 L431.00,401.84 L432.11,402.52 L433.21,403.20 L434.31,403.88 L435.41,404.57 L436.51,405.25 L437.59,405.93 L438.68,406.61 L439.76,407.30 L440.84,407.98 L441.92,408.66 L442.99,409.34 L444.05,410.03 L445.12,410.71 L446.18,411.39 L447.23,412.07 L448.29,412.75 L449.34,413.44 L450.38,414.12 L451.43,414.80 L452.47,415.48 L453.50,416.17 L454.54,416.85 L455.57,417.53 L456.59,418.21 L457.61,418.89 L458.63,419.58 L459.65,420.26 L460.66,420.94 L461.67,421.62 L462.68,422.31 L463.69,422.99 L464.69,423.67 L465.68,424.35 L466.68,425.04 L467.67,425.72 L468.66,426.40 L469.65,427.08 L470.63,427.76 L471.61,428.45 L472.59,429.13 L473.56,429.81 L474.53,430.49 L475.50,431.18 L476.46,431.86 L477.43,432.54 L478.39,433.22 L479.35,433.90 L480.30,434.59 L481.25,435.27 L482.20,435.95 L483.15,436.63 L484.09,437.32 L485.03,438.00 L485.97,438.68 L486.91,439.36 L487.84,440.05 L488.77,440.73 L489.70,441.41 L490.63,442.09 L491.55,442.77 L492.48,443.46 L493.39,444.14 L494.31,444.82 L495.22,445.50 L496.14,446.19 L497.05,446.87 L497.95,447.55 L498.86,448.23 L499.76,448.91 L500.66,449.60 L501.56,450.28 L502.45,450.96 L503.35,451.64 L504.24,452.33 L505.13,453.01 L506.01,453.69 L506.90,454.37 L507.78,455.06 L508.66,455.74 L509.54,456.42 L510.41,457.10 L511.29,457.78 L512.16,458.47 L513.03,459.15 L513.90,459.83 L514.76,460.51 L515.62,461.20 L516.48,461.88 L517.34,462.56 L518.20,463.24 L519.05,463.92 L519.91,464.61 L520.76,465.29 L521.61,465.97 L522.45,466.65 L523.30,467.34 L524.14,468.02 L524.98,468.70 L525.82,469.38 L526.65,470.07 L527.49,470.75 L528.32,471.43 L529.15,472.11 L529.98,472.79 L530.80,473.48 L531.63,474.16 L532.45,474.84 L533.27,475.52 L534.08,476.21 L534.90,476.89 L535.71,477.57 L536.52,478.25 L537.33,478.93 L538.14,479.62 L538.95,480.30 L539.75,480.98 L540.55,481.66 L541.35,482.35 L542.14,483.03 L542.94,483.71 L543.73,484.39 L544.52,485.08 L545.31,485.76 L546.09,486.44 L546.88,487.12 L547.66,487.80 L548.44,488.49 L549.21,489.17 L549.99,489.85 L550.76,490.53 L551.53,491.22 L552.30,491.90 L553.06,492.58 L553.82,493.26 L554.58,493.94 L555.34,494.63 L556.10,495.31 L556.85,495.99 L557.60,496.67 L558.35,497.36 L559.09,498.04 L559.83,498.72 L560.57,499.40 L561.31,500.09 L562.04,500.77 L562.78,501.45 L563.50,502.13 L564.23,502.81 L564.95,503.50 L565.67,504.18 L566.39,504.86 L567.11,505.54 L567.82,506.23 L568.53,506.91 L569.23,507.59 L569.94,508.27 L570.63,508.95 L571.33,509.64 L572.02,510.32 L572.71,511.00 L573.40,511.68 L574.08,512.37 L574.76,513.05 L575.44,513.73 L576.11,514.41 L576.78,515.10 L577.45,515.78 L578.11,516.46 L578.77,517.14 L579.42,517.82 L580.07,518.51 L580.72,519.19 L581.36,519.87 L582.00,520.55 L582.64,521.24 L583.27,521.92 L583.90,522.60 L584.52,523.28 L585.14,523.96 L585.75,524.65 L586.36,525.33 L586.97,526.01 L587.57,526.69 L588.16,527.38 L588.75,528.06 L589.34,528.74 L589.92,529.42 L590.50,530.11 L591.07,530.79 L591.64,531.47 L592.20,532.15 L592.76,532.83 L593.31,533.52 L593.85,534.20 L594.39,534.88 L594.93,535.56 L595.46,536.25 L595.98,536.93 L596.50,537.61 L597.01,538.29 L597.52,538.97 L598.02,539.66 L598.51,540.34 L599.00,541.02 L599.48,541.70 L599.96,542.39 L600.42,543.07 L600.89,543.75 L601.34,544.43 L601.79,545.12 L602.23,545.80 L602.67,546.48 L603.09,547.16 L603.52,547.84 L603.93,548.53 L604.33,549.21 L604.73,549.89 L605.12,550.57 L605.51,551.26 L605.88,551.94 L606.25,552.62 L606.61,553.30 L606.96,553.98 L607.30,554.67 L607.63,555.35 L607.96,556.03 L608.28,556.71 L608.58,557.40 L608.88,558.08 L609.17,558.76 L609.45,559.44 L609.73,560.13 L609.99,560.81 L610.24,561.49 L610.48,562.17 L610.72,562.85 L610.94,563.54 L611.15,564.22 L611.36,564.90 L611.55,565.58 L611.73,566.27 L611.90,566.95 L612.06,567.63 L612.21,568.31 L612.35,568.99 L612.48,569.68 L612.59,570.36 L612.70,571.04 L612.79,571.72 L612.87,572.41 L612.94,573.09 L613.00,573.77 L613.04,574.45 L613.07,575.14 L613.09,575.82 L613.10,576.50" stroke="#1010dc" stroke-width="5" fill="none" stroke-linejoin="round"/><line x1="44.0" y1="372.50" x2="457.5" y2="372.50" stroke="#f5a032" stroke-width="2.6"/><g stroke="#111" stroke-width="1.4"><line x1="44.0" y1="193.5" x2="44.0" y2="577.2"/><line x1="43.3" y1="576.5" x2="640.70" y2="576.5"/><line x1="40" y1="576.50" x2="44.0" y2="576.50"/><line x1="41.3" y1="568.00" x2="44.0" y2="568.00"/><line x1="41.3" y1="559.50" x2="44.0" y2="559.50"/><line x1="41.3" y1="551.00" x2="44.0" y2="551.00"/><line x1="41.3" y1="542.50" x2="44.0" y2="542.50"/><line x1="40" y1="534.00" x2="44.0" y2="534.00"/><line x1="41.3" y1="525.50" x2="44.0" y2="525.50"/><line x1="41.3" y1="517.00" x2="44.0" y2="517.00"/><line x1="41.3" y1="508.50" x2="44.0" y2="508.50"/><line x1="41.3" y1="500.00" x2="44.0" y2="500.00"/><line x1="40" y1="491.50" x2="44.0" y2="491.50"/><line x1="41.3" y1="483.00" x2="44.0" y2="483.00"/><line x1="41.3" y1="474.50" x2="44.0" y2="474.50"/><line x1="41.3" y1="466.00" x2="44.0" y2="466.00"/><line x1="41.3" y1="457.50" x2="44.0" y2="457.50"/><line x1="40" y1="449.00" x2="44.0" y2="449.00"/><line x1="41.3" y1="440.50" x2="44.0" y2="440.50"/><line x1="41.3" y1="432.00" x2="44.0" y2="432.00"/><line x1="41.3" y1="423.50" x2="44.0" y2="423.50"/><line x1="41.3" y1="415.00" x2="44.0" y2="415.00"/><line x1="40" y1="406.50" x2="44.0" y2="406.50"/><line x1="41.3" y1="398.00" x2="44.0" y2="398.00"/><line x1="41.3" y1="389.50" x2="44.0" y2="389.50"/><line x1="41.3" y1="381.00" x2="44.0" y2="381.00"/><line x1="41.3" y1="372.50" x2="44.0" y2="372.50"/><line x1="40" y1="364.00" x2="44.0" y2="364.00"/><line x1="41.3" y1="355.50" x2="44.0" y2="355.50"/><line x1="41.3" y1="347.00" x2="44.0" y2="347.00"/><line x1="41.3" y1="338.50" x2="44.0" y2="338.50"/><line x1="41.3" y1="330.00" x2="44.0" y2="330.00"/><line x1="40" y1="321.50" x2="44.0" y2="321.50"/><line x1="41.3" y1="313.00" x2="44.0" y2="313.00"/><line x1="41.3" y1="304.50" x2="44.0" y2="304.50"/><line x1="41.3" y1="296.00" x2="44.0" y2="296.00"/><line x1="41.3" y1="287.50" x2="44.0" y2="287.50"/><line x1="40" y1="279.00" x2="44.0" y2="279.00"/><line x1="41.3" y1="270.50" x2="44.0" y2="270.50"/><line x1="41.3" y1="262.00" x2="44.0" y2="262.00"/><line x1="41.3" y1="253.50" x2="44.0" y2="253.50"/><line x1="41.3" y1="245.00" x2="44.0" y2="245.00"/><line x1="40" y1="236.50" x2="44.0" y2="236.50"/><line x1="41.3" y1="228.00" x2="44.0" y2="228.00"/><line x1="41.3" y1="219.50" x2="44.0" y2="219.50"/><line x1="41.3" y1="211.00" x2="44.0" y2="211.00"/><line x1="41.3" y1="202.50" x2="44.0" y2="202.50"/><line x1="40" y1="194.00" x2="44.0" y2="194.00"/><line x1="44.00" y1="574.0" x2="44.00" y2="579.5"/><line x1="54.84" y1="576.5" x2="54.84" y2="579.0"/><line x1="65.68" y1="576.5" x2="65.68" y2="579.0"/><line x1="76.52" y1="576.5" x2="76.52" y2="579.0"/><line x1="87.36" y1="576.5" x2="87.36" y2="579.0"/><line x1="98.20" y1="574.0" x2="98.20" y2="579.5"/><line x1="109.04" y1="576.5" x2="109.04" y2="579.0"/><line x1="119.88" y1="576.5" x2="119.88" y2="579.0"/><line x1="130.72" y1="576.5" x2="130.72" y2="579.0"/><line x1="141.56" y1="576.5" x2="141.56" y2="579.0"/><line x1="152.40" y1="574.0" x2="152.40" y2="579.5"/><line x1="163.24" y1="576.5" x2="163.24" y2="579.0"/><line x1="174.08" y1="576.5" x2="174.08" y2="579.0"/><line x1="184.92" y1="576.5" x2="184.92" y2="579.0"/><line x1="195.76" y1="576.5" x2="195.76" y2="579.0"/><line x1="206.60" y1="574.0" x2="206.60" y2="579.5"/><line x1="217.44" y1="576.5" x2="217.44" y2="579.0"/><line x1="228.28" y1="576.5" x2="228.28" y2="579.0"/><line x1="239.12" y1="576.5" x2="239.12" y2="579.0"/><line x1="249.96" y1="576.5" x2="249.96" y2="579.0"/><line x1="260.80" y1="574.0" x2="260.80" y2="579.5"/><line x1="271.64" y1="576.5" x2="271.64" y2="579.0"/><line x1="282.48" y1="576.5" x2="282.48" y2="579.0"/><line x1="293.32" y1="576.5" x2="293.32" y2="579.0"/><line x1="304.16" y1="576.5" x2="304.16" y2="579.0"/><line x1="315.00" y1="574.0" x2="315.00" y2="579.5"/><line x1="325.84" y1="576.5" x2="325.84" y2="579.0"/><line x1="336.68" y1="576.5" x2="336.68" y2="579.0"/><line x1="347.52" y1="576.5" x2="347.52" y2="579.0"/><line x1="358.36" y1="576.5" x2="358.36" y2="579.0"/><line x1="369.20" y1="574.0" x2="369.20" y2="579.5"/><line x1="380.04" y1="576.5" x2="380.04" y2="579.0"/><line x1="390.88" y1="576.5" x2="390.88" y2="579.0"/><line x1="401.72" y1="576.5" x2="401.72" y2="579.0"/><line x1="412.56" y1="576.5" x2="412.56" y2="579.0"/><line x1="423.40" y1="574.0" x2="423.40" y2="579.5"/><line x1="434.24" y1="576.5" x2="434.24" y2="579.0"/><line x1="445.08" y1="576.5" x2="445.08" y2="579.0"/><line x1="455.92" y1="576.5" x2="455.92" y2="579.0"/><line x1="466.76" y1="576.5" x2="466.76" y2="579.0"/><line x1="477.60" y1="574.0" x2="477.60" y2="579.5"/><line x1="488.44" y1="576.5" x2="488.44" y2="579.0"/><line x1="499.28" y1="576.5" x2="499.28" y2="579.0"/><line x1="510.12" y1="576.5" x2="510.12" y2="579.0"/><line x1="520.96" y1="576.5" x2="520.96" y2="579.0"/><line x1="531.80" y1="574.0" x2="531.80" y2="579.5"/><line x1="542.64" y1="576.5" x2="542.64" y2="579.0"/><line x1="553.48" y1="576.5" x2="553.48" y2="579.0"/><line x1="564.32" y1="576.5" x2="564.32" y2="579.0"/><line x1="575.16" y1="576.5" x2="575.16" y2="579.0"/><line x1="586.00" y1="574.0" x2="586.00" y2="579.5"/><line x1="596.84" y1="576.5" x2="596.84" y2="579.0"/><line x1="607.68" y1="576.5" x2="607.68" y2="579.0"/><line x1="618.52" y1="576.5" x2="618.52" y2="579.0"/><line x1="629.36" y1="576.5" x2="629.36" y2="579.0"/><line x1="640.20" y1="574.0" x2="640.20" y2="579.5"/></g><g stroke="#111" stroke-width="2.1" stroke-linecap="butt"><line x1="579.2" y1="67.6" x2="581.8" y2="61.9"/><line x1="583.6" y1="67.6" x2="586.2" y2="61.9"/><line x1="599.2" y1="49.3" x2="601.8" y2="43.8"/><line x1="604.0" y1="49.3" x2="606.6" y2="43.8"/></g><line x1="370" y1="711.3" x2="421.4" y2="711.3" stroke="#f08020" stroke-width="4.2"/><g font-family="Liberation Sans, sans-serif"><text x="178.93" y="25.7" font-size="28.5" fill="#111" stroke="#fff" stroke-width="0.05" textLength="293.41" lengthAdjust="spacingAndGlyphs">Strombelastbarkeitskurve</text><text x="41.27" y="63.8" font-size="28.5" fill="#111" stroke="#fff" stroke-width="0.05" textLength="125.35" lengthAdjust="spacingAndGlyphs">Rasterma&#223;</text><text x="173.19" y="63.8" font-size="28.5" fill="#111" stroke="#fff" stroke-width="0.05" textLength="16.86" lengthAdjust="spacingAndGlyphs">5</text><text x="197.97" y="63.8" font-size="28.5" fill="#111" stroke="#fff" stroke-width="0.05" textLength="41.87" lengthAdjust="spacingAndGlyphs">mm</text><line x1="250.2" y1="67.7" x2="261.9" y2="42.2" stroke="#111" stroke-width="2.2"/><text x="272.67" y="63.8" font-size="28.5" fill="#111" stroke="#fff" stroke-width="0.05" textLength="187.34" lengthAdjust="spacingAndGlyphs">Leiterquerschnitt</text><text x="468.33" y="63.8" font-size="28.5" fill="#111" stroke="#fff" stroke-width="0.05" textLength="40.74" lengthAdjust="spacingAndGlyphs">2,5</text><text x="517.92" y="63.8" font-size="28.5" fill="#111" stroke="#fff" stroke-width="0.05" textLength="40.46" lengthAdjust="spacingAndGlyphs">mm</text><text x="559.11" y="54.8" font-size="11.5" fill="#111" stroke="#111" stroke-width="0.35" textLength="8.80" lengthAdjust="spacingAndGlyphs">2</text><text x="590.26" y="63.8" font-size="32.5" fill="#111" stroke="#fff" stroke-width="0.05" textLength="6.29" lengthAdjust="spacingAndGlyphs">f</text><text x="5.20" y="101.0" font-size="28.5" fill="#111" stroke="#fff" stroke-width="0.05" textLength="21.34" lengthAdjust="spacingAndGlyphs">In</text><text x="34.80" y="101.0" font-size="28.5" fill="#111" stroke="#fff" stroke-width="0.05" textLength="126.58" lengthAdjust="spacingAndGlyphs">Anlehnung</text><text x="170.09" y="101.0" font-size="28.5" fill="#111" stroke="#fff" stroke-width="0.05" textLength="38.44" lengthAdjust="spacingAndGlyphs">an:</text><text x="216.03" y="101.0" font-size="28.5" fill="#111" stroke="#fff" stroke-width="0.05" textLength="37.65" lengthAdjust="spacingAndGlyphs">EN</text><text x="262.36" y="101.0" font-size="28.5" fill="#111" stroke="#fff" stroke-width="0.05" textLength="131.05" lengthAdjust="spacingAndGlyphs">60512-5-2</text><line x1="403.4" y1="104.8" x2="414.9" y2="79.6" stroke="#111" stroke-width="2.2"/><text x="426.14" y="101.0" font-size="28.5" fill="#111" stroke="#fff" stroke-width="0.05" textLength="192.95" lengthAdjust="spacingAndGlyphs">Reduktionsfaktor</text><path d="M635.9,79.8 L638.3,79.8 L638.3,101 L635.9,101 Z M631.9,81.8 L635.9,79.8 L635.9,82.3 L631.9,84.3 Z" fill="#111" stroke="none"/><text x="10.28" y="163.1" font-size="22.5" fill="#111" stroke="#fff" stroke-width="0.2" textLength="54.59" lengthAdjust="spacingAndGlyphs">Strom</text><text x="70.94" y="163.1" font-size="22.5" fill="#111" stroke="#fff" stroke-width="0.2" textLength="16.29" lengthAdjust="spacingAndGlyphs">in</text><text x="92.20" y="163.1" font-size="22.5" fill="#111" stroke="#fff" stroke-width="0.2" textLength="16.25" lengthAdjust="spacingAndGlyphs">A</text><text x="364.20" y="654.6" font-size="22.5" fill="#111" stroke="#fff" stroke-width="0.2" textLength="217.58" lengthAdjust="spacingAndGlyphs">Umgebungstemperatur</text><text x="586.58" y="654.6" font-size="22.5" fill="#111" stroke="#fff" stroke-width="0.2" textLength="17.02" lengthAdjust="spacingAndGlyphs">in</text><text x="621.63" y="654.6" font-size="22.5" fill="#111" stroke="#fff" stroke-width="0.2" textLength="16.95" lengthAdjust="spacingAndGlyphs">C</text><circle cx="616.4" cy="641.5" r="2.6" fill="none" stroke="#111" stroke-width="1.7"/><text x="42.22" y="719.8" font-size="23" fill="#d81e3c" stroke="#fff" stroke-width="0.15" textLength="25.27" lengthAdjust="spacingAndGlyphs">2-,</text><text x="85.08" y="719.8" font-size="23" fill="#8ee4d6" stroke="#fff" stroke-width="0.1" textLength="24.66" lengthAdjust="spacingAndGlyphs">4-,</text><text x="126.99" y="719.8" font-size="23" fill="#62e03c" stroke="#fff" stroke-width="0.15" textLength="23.57" lengthAdjust="spacingAndGlyphs">6-,</text><text x="173.44" y="719.8" font-size="23" fill="#3352bc" stroke="#fff" stroke-width="0.15" textLength="30.00" lengthAdjust="spacingAndGlyphs">12-</text><text x="206.49" y="719.8" font-size="23" fill="#111" stroke="#fff" stroke-width="0.2" textLength="49.09" lengthAdjust="spacingAndGlyphs">polig</text><text x="428.59" y="717.0" font-size="23" fill="#111" stroke="#fff" stroke-width="0.2" textLength="214.65" lengthAdjust="spacingAndGlyphs">Leiterbemessungsstrom</text><text x="12.96" y="199.4" font-size="25.5" fill="#111" stroke="#111" stroke-width="0.5" textLength="24.58" lengthAdjust="spacingAndGlyphs">45</text><text x="12.97" y="242.4" font-size="25.5" fill="#111" stroke="#111" stroke-width="0.5" textLength="24.04" lengthAdjust="spacingAndGlyphs">40</text><text x="12.51" y="284.4" font-size="25.5" fill="#111" stroke="#111" stroke-width="0.5" textLength="24.84" lengthAdjust="spacingAndGlyphs">35</text><text x="12.51" y="326.4" font-size="25.5" fill="#111" stroke="#111" stroke-width="0.5" textLength="24.72" lengthAdjust="spacingAndGlyphs">30</text><text x="12.28" y="369.7" font-size="25.5" fill="#111" stroke="#111" stroke-width="0.5" textLength="24.86" lengthAdjust="spacingAndGlyphs">25</text><text x="12.29" y="412.1" font-size="25.5" fill="#111" stroke="#111" stroke-width="0.5" textLength="24.74" lengthAdjust="spacingAndGlyphs">20</text><text x="13.94" y="454.1" font-size="25.5" fill="#111" stroke="#111" stroke-width="0.5" textLength="23.14" lengthAdjust="spacingAndGlyphs">15</text><text x="13.93" y="496.8" font-size="25.5" fill="#111" stroke="#111" stroke-width="0.5" textLength="23.25" lengthAdjust="spacingAndGlyphs">10</text><text x="20.58" y="539.5" font-size="25.5" fill="#111" stroke="#111" stroke-width="0.5" textLength="12.76" lengthAdjust="spacingAndGlyphs">5</text><text x="25.71" y="590.6" font-size="25.5" fill="#111" stroke="#111" stroke-width="0.5" textLength="12.40" lengthAdjust="spacingAndGlyphs">0</text><text x="87.49" y="601.4" font-size="26" fill="#111" stroke="#111" stroke-width="0.5" textLength="23.92" lengthAdjust="spacingAndGlyphs">10</text><text x="140.97" y="601.4" font-size="26" fill="#111" stroke="#111" stroke-width="0.5" textLength="25.18" lengthAdjust="spacingAndGlyphs">20</text><text x="195.70" y="601.4" font-size="26" fill="#111" stroke="#111" stroke-width="0.5" textLength="24.93" lengthAdjust="spacingAndGlyphs">30</text><text x="250.08" y="601.4" font-size="26" fill="#111" stroke="#111" stroke-width="0.5" textLength="23.51" lengthAdjust="spacingAndGlyphs">40</text><text x="304.97" y="601.4" font-size="26" fill="#111" stroke="#111" stroke-width="0.5" textLength="23.11" lengthAdjust="spacingAndGlyphs">50</text><text x="359.41" y="601.4" font-size="26" fill="#111" stroke="#111" stroke-width="0.5" textLength="24.20" lengthAdjust="spacingAndGlyphs">60</text><text x="413.91" y="601.4" font-size="26" fill="#111" stroke="#111" stroke-width="0.5" textLength="24.20" lengthAdjust="spacingAndGlyphs">70</text><text x="467.82" y="601.4" font-size="26" fill="#111" stroke="#111" stroke-width="0.5" textLength="24.19" lengthAdjust="spacingAndGlyphs">80</text><text x="522.33" y="601.4" font-size="26" fill="#111" stroke="#111" stroke-width="0.5" textLength="24.08" lengthAdjust="spacingAndGlyphs">90</text><text x="565.60" y="601.4" font-size="26" fill="#111" stroke="#111" stroke-width="0.5" textLength="35.52" lengthAdjust="spacingAndGlyphs">100</text><text x="605.45" y="601.4" font-size="26" fill="#111" stroke="#111" stroke-width="0.5" textLength="34.45" lengthAdjust="spacingAndGlyphs">105</text></g>
</svg></body></html>
